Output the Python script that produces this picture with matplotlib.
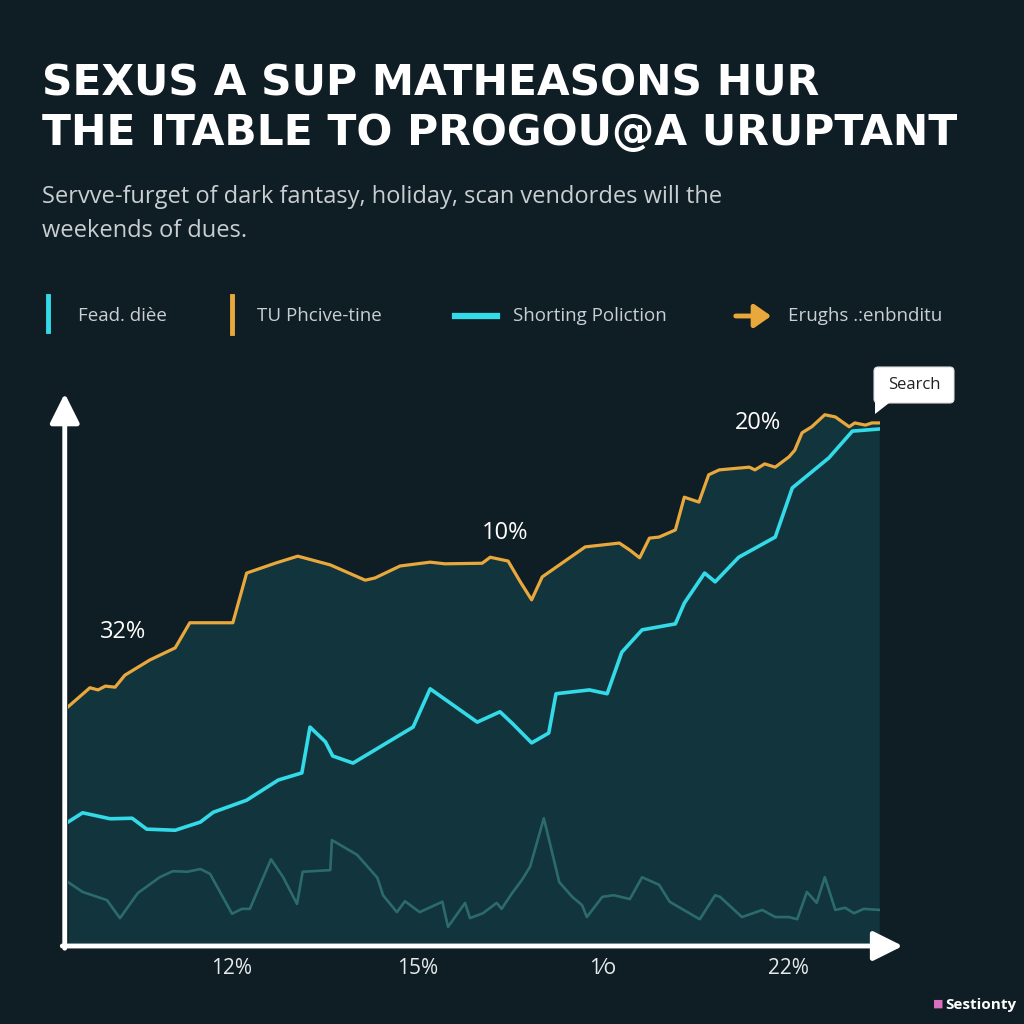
import matplotlib.pyplot as plt
from matplotlib.lines import Line2D
from matplotlib.patches import FancyBboxPatch, Polygon, FancyArrowPatch

# ---- data (x: 0-100 along the axis, y: 0-100 up the axis) ----
gold_x = [0, 2.7, 3.7, 4.6, 5.8, 7.0, 10.1, 13.2, 15.0, 20.3, 22.0, 25.5, 28.3, 32.3, 36.6, 37.8,
          40.9, 44.6, 46.4, 51.0, 52.0, 54.2, 55.7, 57.1, 58.4, 63.7, 67.9, 69.2, 70.4, 71.6, 72.8,
          74.8, 75.9, 77.7, 78.9, 80.2, 83.9, 84.6, 85.8, 87.1, 88.8, 89.5, 90.4, 91.6, 93.2, 94.5,
          96.2, 96.9, 98.2, 99.0, 99.9]
gold_y = [43.8, 47.3, 46.9, 47.6, 47.4, 49.6, 52.4, 54.6, 59.2, 59.2, 68.3, 70.1, 71.4, 69.8, 67.0, 67.4,
          69.6, 70.3, 70.0, 70.1, 71.2, 70.5, 66.7, 63.4, 67.6, 73.1, 73.8, 72.5, 71.1, 74.7, 74.9,
          76.2, 82.2, 81.3, 86.3, 87.2, 87.7, 87.2, 88.3, 87.7, 89.6, 90.8, 94.0, 95.1, 97.3, 96.9,
          95.1, 95.8, 95.4, 95.8, 95.8]

cyan_x = [0, 1.8, 5.2, 7.9, 9.7, 13.2, 16.3, 17.9, 22.0, 24.0, 25.9, 28.8, 29.8, 31.7, 32.6, 35.1,
          42.5, 44.6, 50.4, 53.2, 54.7, 57.1, 59.2, 60.1, 64.2, 66.4, 68.2, 70.7, 74.8, 75.9, 78.4,
          79.7, 82.6, 87.1, 89.2, 93.7, 96.6, 100]
cyan_y = [22.7, 24.4, 23.3, 23.4, 21.4, 21.2, 22.7, 24.5, 26.7, 28.6, 30.4, 31.7, 40.1, 37.4, 34.8, 33.5,
          40.1, 47.1, 41.0, 42.9, 40.8, 37.2, 39.0, 46.2, 46.9, 46.2, 53.8, 57.9, 59.0, 62.8, 68.3,
          66.7, 71.2, 74.9, 83.9, 89.4, 94.3, 94.7]

dim_x = [0, 1.8, 4.8, 6.4, 8.6, 11.3, 12.9, 14.7, 16.3, 17.5, 20.2, 21.4, 22.4, 25.0, 26.5, 28.2,
         28.9, 32.3, 32.5, 35.6, 38.1, 38.8, 40.5, 41.5, 43.3, 46.1, 46.8, 48.9, 49.5, 51.1, 52.8,
         53.4, 54.7, 55.9, 56.9, 58.6, 60.5, 62.1, 63.3, 63.9, 65.8, 67.2, 69.2, 70.7, 72.8, 74.1,
         77.8, 79.7, 80.3, 83.0, 85.5, 87.1, 88.8, 89.8, 91.0, 92.2, 93.2, 94.5, 95.7, 96.8, 98.0, 100]
dim_y = [11.7, 9.9, 8.4, 5.1, 9.7, 12.6, 13.7, 13.6, 14.1, 13.2, 5.9, 6.8, 6.8, 15.9, 12.6, 7.7,
         13.6, 13.9, 19.4, 16.7, 12.5, 9.3, 6.2, 8.2, 6.2, 8.1, 3.5, 7.9, 5.1, 6.0, 7.9,
         6.8, 9.7, 12.1, 14.5, 23.4, 11.7, 9.0, 7.5, 5.3, 9.0, 9.3, 8.6, 12.6, 11.2, 8.1,
         4.9, 9.3, 9.0, 5.3, 6.6, 5.3, 5.3, 4.9, 9.9, 7.9, 12.6, 6.6, 7.0, 6.0, 6.8, 6.6]

tick_pos = [20.2, 43.1, 65.9, 88.7]
tick_labels = ['12%', '15%', '1⁄o', '22%']

notes = ['32%', '10%', '20%']
note_x = [6.8, 53.8, 85.0]
note_y = [57.5, 75.6, 95.7]

legend_labels = ['Fead. diѐe', 'TU Phcive-tine', 'Shorting Poliction', 'Erughs .:enbnditu']

BG = '#0f1d25'
FILL = '#12343c'
GOLD = '#e8a83c'
CYAN = '#33dbe8'
DIM = '#2c6b6c'

plt.rcParams['font.family'] = ['Open Sans', 'DejaVu Sans']

fig = plt.figure(figsize=(10.24, 10.24), dpi=100, facecolor=BG)
ax = fig.add_axes([68 / 1024, 78 / 1024, 812 / 1024, 546 / 1024])
ax.set_facecolor(BG)
ax.set_xlim(0, 100)
ax.set_ylim(0, 100)
for s in ax.spines.values():
    s.set_visible(False)

ax.fill_between(gold_x, gold_y, 0, color=FILL, lw=0)
ax.plot(dim_x, dim_y, color=DIM, lw=1.9)
ax.plot(cyan_x, cyan_y, color=CYAN, lw=2.6)
ax.plot(gold_x, gold_y, color=GOLD, lw=2.3)

ax.set_xticks(tick_pos, tick_labels)
ax.set_yticks([])
ax.tick_params(axis='x', length=0, pad=9, labelsize=15, labelcolor='#e6eaec')

# axis arrows
arrow = dict(arrowstyle='-|>,head_length=0.9,head_width=0.45', color='white', lw=3.5,
             shrinkA=0, shrinkB=0, mutation_scale=20)
ax.annotate('', xy=(-0.004, 1.012), xytext=(-0.004, -0.004), xycoords='axes fraction',
            arrowprops=arrow, annotation_clip=False)
ax.annotate('', xy=(1.028, 0.0), xytext=(-0.007, 0.0), xycoords='axes fraction',
            arrowprops=arrow, annotation_clip=False)

for t, x, y in zip(notes, note_x, note_y):
    ax.text(x, y, t, color='white', fontsize=17, ha='center', va='center')

# search callout
sx0, sy0, sw, sh = 874 / 1024, 1 - 403 / 1024, 80 / 1024, 36 / 1024
fig.patches.append(FancyBboxPatch((sx0, sy0), sw, sh, boxstyle='round,pad=0,rounding_size=0.004',
                                  transform=fig.transFigure, fc='white', ec='#dddddd', lw=0.8))
fig.patches.append(Polygon([[sx0 + 0.001, sy0 + 0.001], [sx0 + 0.016, sy0 + 0.001],
                            [sx0 + 0.001, 1 - 414 / 1024]], closed=True,
                           transform=fig.transFigure, fc='white', ec='none'))
fig.text(sx0 + sw / 2, sy0 + sh / 2, 'Search', color='#222222', fontsize=12,
         ha='center', va='center')

# title and subtitle
title_font = dict(color='white', fontsize=30.5, fontweight='bold', family='DejaVu Sans', va='center')
fig.text(42 / 1024, 1 - 84 / 1024, 'SEXUS A SUP MATHEASONS HUR', **title_font)
fig.text(42 / 1024, 1 - 133 / 1024, 'THE ITABLE TO PROGOU@A URUPTANT', **title_font)
fig.text(42 / 1024, 1 - 197 / 1024, 'Servve-furget of dark fantasy, holiday, scan vendordes will the',
         color='#c9ced1', fontsize=17, va='center')
fig.text(42 / 1024, 1 - 231 / 1024, 'weekends of dues.',
         color='#c9ced1', fontsize=17, va='center')

# legend row
ly = 1 - 316 / 1024
fig.lines.append(Line2D([48 / 1024, 48 / 1024], [1 - 296 / 1024, 1 - 331 / 1024],
                        transform=fig.transFigure, color=CYAN, lw=3.5))
fig.lines.append(Line2D([232 / 1024, 232 / 1024], [1 - 296 / 1024, 1 - 333 / 1024],
                        transform=fig.transFigure, color=GOLD, lw=3.5))
fig.lines.append(Line2D([455 / 1024, 497 / 1024], [ly, ly], transform=fig.transFigure,
                        color=CYAN, lw=4.5))
fig.patches.append(FancyArrowPatch(
    (733 / 1024, ly), (774 / 1024, ly), transform=fig.transFigure,
    arrowstyle='-|>,head_length=0.5,head_width=0.35', mutation_scale=20, color=GOLD, lw=3.5))
for lab, x in zip(legend_labels, [78, 257, 513, 788]):
    fig.text(x / 1024, ly, lab, color='#c9d0d4', fontsize=13.5, va='center')

# watermark
fig.text(1016 / 1024, 1 - 1005 / 1024, 'Sestionty', color='white', fontsize=11,
         fontweight='bold', ha='right', va='center')
fig.text(938 / 1024, 1 - 1004 / 1024, '■', color='#d86fc0', fontsize=8, ha='center', va='center')

fig.savefig('out.png', dpi=100, facecolor=BG)
